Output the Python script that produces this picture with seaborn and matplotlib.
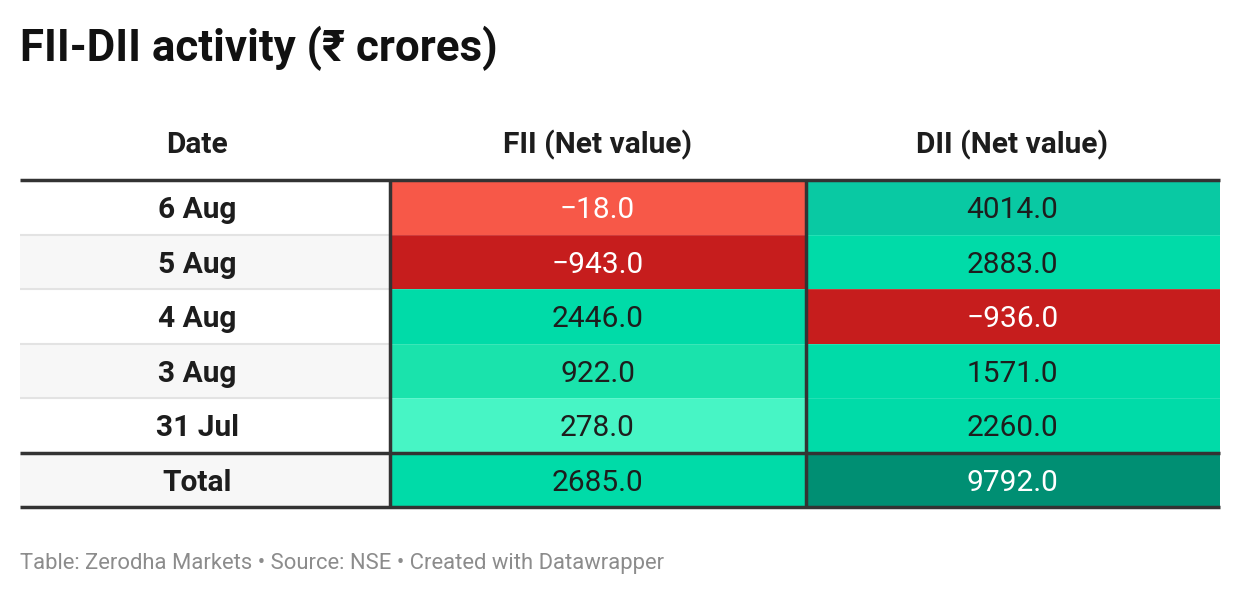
import numpy as np
import pandas as pd
import matplotlib
matplotlib.use("Agg")
import matplotlib.pyplot as plt
import seaborn as sns
from matplotlib.colors import ListedColormap, BoundaryNorm

# ---- data ----
dates = ["6 Aug", "5 Aug", "4 Aug", "3 Aug", "31 Jul", "Total"]
fii = [-18.0, -943.0, 2446.0, 922.0, 278.0, 2685.0]
dii = [4014.0, 2883.0, -936.0, 1571.0, 2260.0, 9792.0]
columns = ["FII (Net value)", "DII (Net value)"]
date_header = "Date"
title = "FII-DII activity (₹ crores)"
footer = "Table: Zerodha Markets • Source: NSE • Created with Datawrapper"

# ---- styles ----
bin_edges = [-1e5, -500, 0, 500, 1000, 3000, 5000, 1e5]
bin_colors = ["#C61D1D", "#F75848", "#47F5C5", "#1AE3AC", "#00DBA8", "#09C9A3", "#008F73"]
light_text_bins = {0, 1, 6}

sns.set_theme(style="white")
plt.rcParams["font.family"] = ["Roboto", "DejaVu Sans"]

W, H = 1240, 596
fig = plt.figure(figsize=(W / 100, H / 100), dpi=100)
fig.patch.set_facecolor("white")


def px(l, t, r, b):
    return [l / W, 1 - b / H, (r - l) / W, (b - t) / H]


TABLE_TOP, TABLE_BOT = 180, 507
X0, XD, XF, X1 = 20, 390, 806, 1220
row_h = (TABLE_BOT - TABLE_TOP) / len(dates)
dy = 2.8 / row_h  # small downward nudge for text centring

# heatmap of the numeric columns
df = pd.DataFrame({columns[0]: fii, columns[1]: dii}, index=dates)
cmap = ListedColormap(bin_colors)
norm = BoundaryNorm(bin_edges, cmap.N)
ax_h = fig.add_axes(px(XD, TABLE_TOP, X1, TABLE_BOT))
sns.heatmap(df, ax=ax_h, cmap=cmap, norm=norm, cbar=False, annot=False,
            xticklabels=False, yticklabels=False, linewidths=0)
ax_h.set_xlabel("")
ax_h.set_ylabel("")
for i in range(df.shape[0]):
    for j in range(df.shape[1]):
        v = df.iat[i, j]
        b = int(np.searchsorted(bin_edges, v, side="right") - 1)
        col = "white" if b in light_text_bins else "#1d1d1d"
        s = f"{v:.1f}".replace("-", "\u2212")
        ax_h.text(j + 0.5, i + 0.5 + dy, s, ha="center", va="center",
                  fontsize=21.5, color=col)
for i in range(1, df.shape[0] - 1):
    ax_h.axhline(i, color="white", lw=0.4, alpha=0.25)

# date column
ax_d = fig.add_axes(px(X0, TABLE_TOP, XD, TABLE_BOT))
ax_d.set_xlim(0, 1)
ax_d.set_ylim(len(dates), 0)
ax_d.axis("off")
for i, d in enumerate(dates):
    bg = "white" if i % 2 == 0 else "#f7f7f7"
    ax_d.axhspan(i, i + 1, color=bg, lw=0)
    ax_d.text((197 - X0) / (XD - X0), i + 0.5 + dy, d, ha="center", va="center",
              fontsize=21.5, fontweight="bold", color="#1d1d1d")
for i in range(1, len(dates) - 1):
    ax_d.axhline(i, color="#e3e3e3", lw=1.5)

# overlay for title, headers, rules, footer
ax_o = fig.add_axes([0, 0, 1, 1], facecolor="none")
ax_o.set_xlim(0, W)
ax_o.set_ylim(H, 0)
ax_o.axis("off")
ax_o.set_zorder(10)

ax_o.text(X0, 48, title, ha="left", va="center", fontsize=31.6,
          fontweight="bold", color="#111111")
ax_o.text(197, 145, date_header, ha="center", va="center", fontsize=21.5,
          fontweight="bold", color="#1d1d1d")
for k, c in enumerate(columns):
    xc = XD + (X1 - XD) * (k + 0.5) / len(columns)
    ax_o.text(xc, 145, c, ha="center", va="center", fontsize=21.5,
              fontweight="bold", color="#1d1d1d")

total_y = TABLE_TOP + row_h * (len(dates) - 1)
for y in [TABLE_TOP, total_y, TABLE_BOT]:
    ax_o.plot([X0, X1], [y, y], color="#333333", lw=2.5, solid_capstyle="butt")
for x in [XD, XF]:
    ax_o.plot([x, x], [TABLE_TOP, TABLE_BOT], color="#333333", lw=2.5,
              solid_capstyle="butt")

ax_o.text(X0, 564, footer, ha="left", va="center", fontsize=15.8,
          color="#8c8c8c")

fig.savefig("out.png", dpi=100, facecolor="white")
